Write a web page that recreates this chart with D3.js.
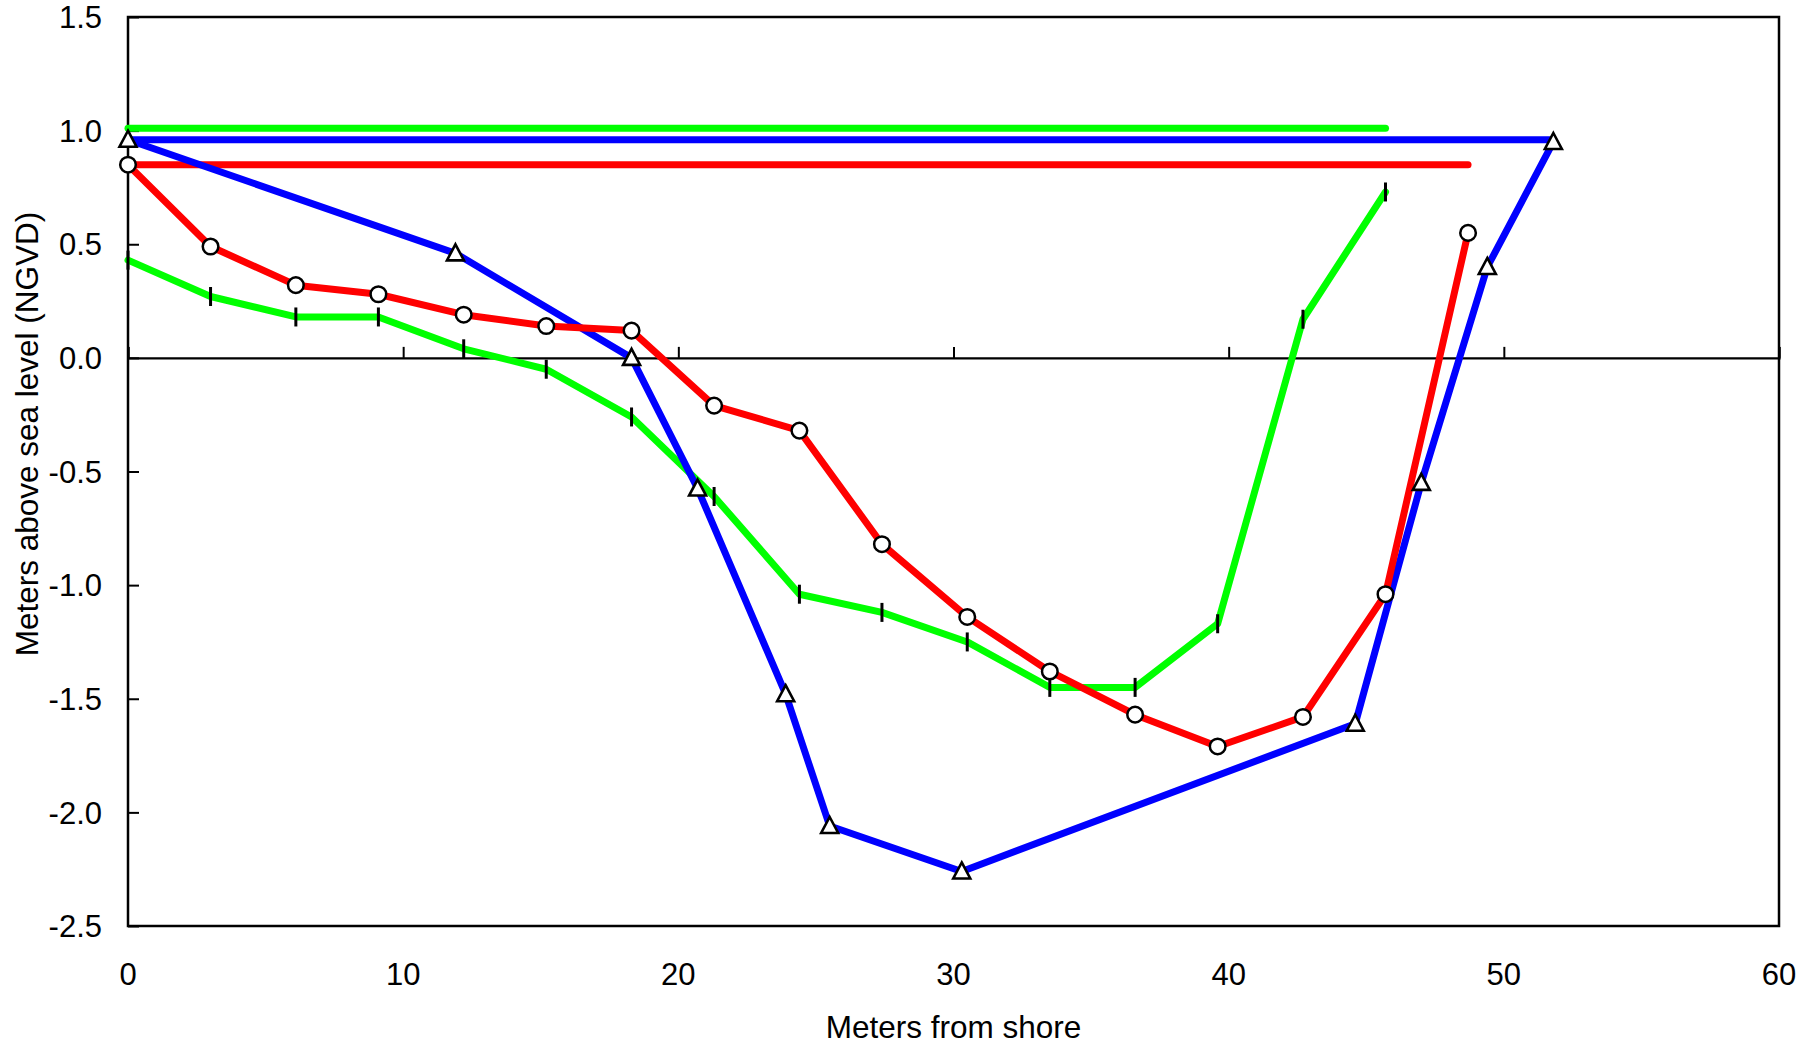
<!DOCTYPE html>
<html>
<head>
<meta charset="utf-8">
<script src="https://cdn.jsdelivr.net/npm/d3@7"></script>
<style>
  html, body { margin: 0; padding: 0; background: #fff; }
  svg { display: block; }
  text { font-family: "Liberation Sans", Arial, Helvetica, sans-serif; fill: #000; }
</style>
</head>
<body>
<svg id="chart" width="1820" height="1047"></svg>
<script>
// ---- data ----
const xTicks = [0, 10, 20, 30, 40, 50, 60];
const yTicks = [1.5, 1.0, 0.5, 0.0, -0.5, -1.0, -1.5, -2.0, -2.5];

// blue profile (triangles)
const blueX = [0, 11.9, 18.3, 20.7, 23.9, 25.5, 30.3, 44.6, 47.0, 49.4, 51.8];
const blueY = [0.96, 0.46, 0.0, -0.575, -1.48, -2.06, -2.26, -1.61, -0.55, 0.40, 0.95];
// red profile (circles)
const redX = [0, 3.0, 6.1, 9.1, 12.2, 15.2, 18.3, 21.3, 24.4, 27.4, 30.5, 33.5, 36.6, 39.6, 42.7, 45.7, 48.7];
const redY = [0.85, 0.49, 0.32, 0.28, 0.19, 0.14, 0.12, -0.21, -0.32, -0.82, -1.14, -1.38, -1.57, -1.71, -1.58, -1.04, 0.55];
// green profile (vertical bar markers)
const greenX = [0, 3.0, 6.1, 9.1, 12.2, 15.2, 18.3, 21.3, 24.4, 27.4, 30.5, 33.5, 36.6, 39.6, 42.7, 45.7];
const greenY = [0.43, 0.27, 0.18, 0.18, 0.04, -0.05, -0.26, -0.61, -1.04, -1.12, -1.25, -1.45, -1.45, -1.17, 0.17, 0.73];

// water surface levels: [start x, end x, level]
const greenWater = [0, 45.7, 1.01];
const blueWater = [0, 51.8, 0.96];
const redWater = [0, 48.7, 0.85];

const xTitle = "Meters from shore";
const yTitle = "Meters above sea level (NGVD)";

// ---- layout ----
const svg = d3.select("#chart");
const L = 128, R = 1779, T = 17, B = 926;
const x = d3.scaleLinear().domain([0, 60]).range([L, R]);
const y = d3.scaleLinear().domain([-2.5, 1.5]).range([B, T]);

const FS = 31;
const fmtY = d => d3.format(".1f")(d).replace("\u2212", "-");

// frame
svg.append("rect").attr("x", L).attr("y", T).attr("width", R - L).attr("height", B - T)
  .attr("fill", "none").attr("stroke", "#000").attr("stroke-width", 2.5);

// zero line with upward ticks (x axis)
const xAxis = d3.axisTop(x).tickValues(xTicks).tickSize(11).tickFormat("");
const gx = svg.append("g").attr("transform", `translate(0,${y(0)})`).call(xAxis);
gx.select(".domain").attr("stroke", "#000").attr("stroke-width", 2.2);
gx.selectAll(".tick line").attr("stroke", "#000").attr("stroke-width", 2);

// x tick labels (below frame)
svg.append("g").selectAll("text").data(xTicks).join("text")
  .attr("x", d => x(d)).attr("y", 985)
  .attr("text-anchor", "middle").attr("font-size", FS)
  .text(d => d3.format("d")(d));

// y axis: inward ticks
const yAxis = d3.axisRight(y).tickValues(yTicks).tickSize(11).tickFormat("");
const gy = svg.append("g").attr("transform", `translate(${L},0)`).call(yAxis);
gy.select(".domain").remove();
gy.selectAll(".tick line").attr("stroke", "#000").attr("stroke-width", 2);

svg.append("g").selectAll("text").data(yTicks).join("text")
  .attr("x", 102).attr("y", d => y(d))
  .attr("dy", "0.36em")
  .attr("text-anchor", "end").attr("font-size", FS)
  .text(fmtY);

// axis titles
svg.append("text").attr("x", x(30)).attr("y", 1038)
  .attr("text-anchor", "middle").attr("font-size", 31.5).text(xTitle);
svg.append("text").attr("transform", "translate(38,434) rotate(-90)")
  .attr("text-anchor", "middle").attr("font-size", 31.5).text(yTitle);

// ---- series ----
const line = d3.line().x(d => x(d[0])).y(d => y(d[1]));
const zip = (a, b) => a.map((v, i) => [v, b[i]]);
const greenPts = zip(greenX, greenY);
const bluePts = zip(blueX, blueY);
const redPts = zip(redX, redY);

const plot = svg.append("g");
const LW = 7;
function drawLine(pts, color) {
  plot.append("path").datum(pts).attr("d", line)
    .attr("fill", "none").attr("stroke", color).attr("stroke-width", LW)
    .attr("stroke-linejoin", "round").attr("stroke-linecap", "round");
}
function drawWater(w, color) {
  drawLine([[w[0], w[2]], [w[1], w[2]]], color);
}

drawWater(greenWater, "#00ff00");
drawWater(blueWater, "#0000ff");
drawWater(redWater, "#ff0000");
drawLine(greenPts, "#00ff00");
drawLine(bluePts, "#0000ff");
drawLine(redPts, "#ff0000");

// markers
const mk = svg.append("g");
mk.selectAll("line.gm").data(greenPts).join("line").attr("class", "gm")
  .attr("x1", d => x(d[0])).attr("x2", d => x(d[0]))
  .attr("y1", d => y(d[1]) - 9.5).attr("y2", d => y(d[1]) + 9.5)
  .attr("stroke", "#000").attr("stroke-width", 3);

const tw = 17, th = 16;
mk.selectAll("path.bm").data(bluePts).join("path").attr("class", "bm")
  .attr("d", d => {
    const cx = x(d[0]), cy = y(d[1]);
    return `M${cx},${cy - th / 2 - 1}L${cx + tw / 2},${cy + th / 2 - 1}L${cx - tw / 2},${cy + th / 2 - 1}Z`;
  })
  .attr("fill", "#fff").attr("stroke", "#000").attr("stroke-width", 2.6)
  .attr("stroke-linejoin", "miter");

mk.selectAll("circle.rm").data(redPts).join("circle").attr("class", "rm")
  .attr("cx", d => x(d[0])).attr("cy", d => y(d[1])).attr("r", 7.8)
  .attr("fill", "#fff").attr("stroke", "#000").attr("stroke-width", 2.5);
</script>
</body>
</html>
